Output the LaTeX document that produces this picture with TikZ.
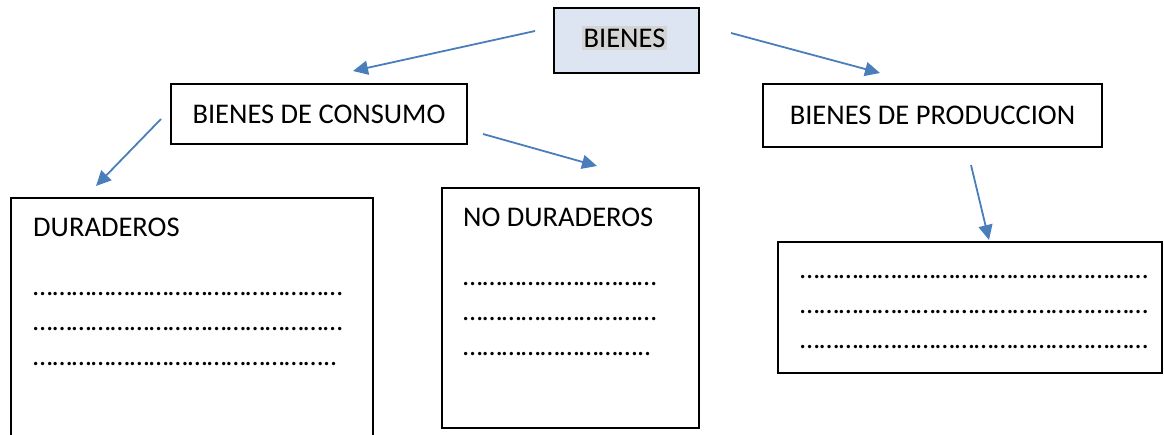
\documentclass[tikz,border=0pt]{standalone}
\usepackage{fontspec}
\setmainfont{Carlito}
\usetikzlibrary{arrows.meta}
\definecolor{arrowblue}{HTML}{4A7EBB}
\definecolor{boxfill}{HTML}{DCE5F1}
\definecolor{hlgray}{HTML}{D4D4D4}
\newcommand{\ellrep}[1]{\foreach \k in {1,...,#1}{…}}
\begin{document}
\begin{tikzpicture}[x=1pt,y=-1pt,
  every node/.style={font=\fontsize{28.5pt}{34pt}\selectfont},
  box/.style={draw=black,line width=2.2pt,inner sep=0pt},
  txt/.style={anchor=base west,inner sep=0pt},
  dotline/.style={anchor=base west,inner sep=0pt,font=\fontsize{28pt}{34pt}\selectfont},
  conn/.style={draw=arrowblue,line width=1.8pt,-{Triangle[length=15pt,width=14pt]}}]
\useasboundingbox (0,0) rectangle (1164,434);
% boxes
\node[box,fill=boxfill,minimum width=145pt,minimum height=65pt] (bienes) at (626.5,40.5) {};
\node[fill=hlgray,inner xsep=2pt,inner ysep=3pt] (bienestxt) at (624.5,38) {BIENES};
\node[box,minimum width=296pt,minimum height=60pt] (consumo) at (319,114) {BIENES DE CONSUMO};
\node[box,minimum width=339pt,minimum height=63pt] (produccion) at (932.5,115.5) {BIENES DE PRODUCCION};
\draw[line width=2.2pt] (11,436) -- (11,198) -- (373,198) -- (373,436);
\node[box,minimum width=257pt,minimum height=240pt] (nodur) at (570.5,308) {};
\node[box,minimum width=384pt,minimum height=131pt] (prodbox) at (970,307.5) {};
% texts
\node[txt] (durtxt) at (33,236) {DURADEROS};
\node[dotline] (d1) at (33,295) {\ellrep{16}};
\node[dotline] (d2) at (33,330) {\ellrep{16}};
\node[dotline] (d3) at (33,365) {\ellrep{15}..};
\node[txt] (nodurtxt) at (463,226) {NO DURADEROS};
\node[dotline] (n1) at (463,285) {\ellrep{10}};
\node[dotline] (n2) at (463,320) {\ellrep{10}};
\node[dotline] (n3) at (463,355) {\ellrep{9}..};
\node[dotline] (p1) at (800,278) {\ellrep{18}};
\node[dotline] (p2) at (800,313) {\ellrep{18}};
\node[dotline] (p3) at (800,348) {\ellrep{18}};
% connectors
\coordinate (a1s) at (535,31);  \coordinate (a1e) at (353,71);
\coordinate (a2s) at (731,33);  \coordinate (a2e) at (880,73);
\coordinate (a3s) at (161,119); \coordinate (a3e) at (96,186);
\coordinate (a4s) at (483,134); \coordinate (a4e) at (597,166);
\coordinate (a5s) at (971,165); \coordinate (a5e) at (989,240);
\draw[conn] (a1s) -- (a1e);
\draw[conn] (a2s) -- (a2e);
\draw[conn] (a3s) -- (a3e);
\draw[conn] (a4s) -- (a4e);
\draw[conn] (a5s) -- (a5e);
\end{tikzpicture}
\end{document}
